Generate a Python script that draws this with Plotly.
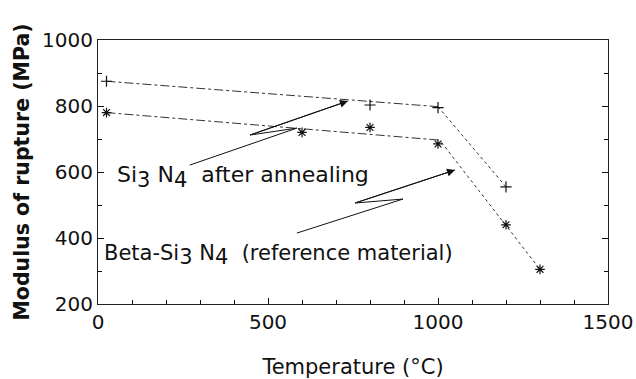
import plotly.graph_objects as go

# Measured points
annealed_T = [25, 800, 1000, 1200]
annealed_MOR = [875, 803, 795, 555]
beta_T = [25, 600, 800, 1000, 1200, 1300]
beta_MOR = [780, 720, 735, 685, 440, 305]

# Drawn trend lines
annealed_flat_T = [25, 1000]
annealed_flat_MOR = [875, 798]
annealed_drop_T = [1000, 1200]
annealed_drop_MOR = [798, 555]
beta_flat_T = [25, 1000]
beta_flat_MOR = [780, 697]
beta_drop_T = [1010, 1200, 1300]
beta_drop_MOR = [690, 440, 305]

# Label arrows with break (lightning) symbol
arrow1_T = [270, 585, 447, 735]
arrow1_MOR = [621, 733, 712, 815]
arrow2_T = [585, 897, 756, 1050]
arrow2_MOR = [415, 518, 506, 606]

x_ticks = [0, 500, 1000, 1500]
y_ticks = [200, 400, 600, 800, 1000]

FONT = "DejaVu Sans"
INK = "#111111"

fig = go.Figure()

for tx, ty, dash in [(annealed_flat_T, annealed_flat_MOR, "dashdot"),
                     (annealed_drop_T, annealed_drop_MOR, "dot"),
                     (beta_flat_T, beta_flat_MOR, "dashdot"),
                     (beta_drop_T, beta_drop_MOR, "dot")]:
    fig.add_trace(go.Scatter(x=tx, y=ty, mode="lines",
                             line=dict(color="#333333", width=1, dash=dash),
                             hoverinfo="skip", showlegend=False))

for ax_, ay_ in [(arrow1_T, arrow1_MOR), (arrow2_T, arrow2_MOR)]:
    fig.add_trace(go.Scatter(x=ax_, y=ay_, mode="lines",
                             line=dict(color=INK, width=1),
                             hoverinfo="skip", showlegend=False))
    fig.add_annotation(x=ax_[-1], y=ay_[-1], ax=ax_[-2], ay=ay_[-2],
                       xref="x", yref="y", axref="x", ayref="y",
                       showarrow=True, arrowhead=2, arrowsize=1.6,
                       arrowwidth=1, arrowcolor=INK, text="")

fig.add_trace(go.Scatter(x=annealed_T, y=annealed_MOR, mode="markers",
                         marker=dict(symbol="cross-thin", size=8, color=INK,
                                     line=dict(color=INK, width=1.2)),
                         name="Si3N4 after annealing", showlegend=False))
fig.add_trace(go.Scatter(x=beta_T, y=beta_MOR, mode="markers",
                         marker=dict(symbol="asterisk-open", size=8, color=INK,
                                     line=dict(color=INK, width=1.2)),
                         name="Beta-Si3N4", showlegend=False))

sub = "<sub><span style='font-size:21px'>{}</span></sub>"
fig.add_annotation(x=50, y=585, xref="x", yref="y", xanchor="left",
                   yanchor="middle", showarrow=False,
                   text="Si" + sub.format("3") + " N" + sub.format("4")
                   + "&nbsp;&nbsp;after annealing",
                   font=dict(family=FONT, size=22, color=INK))
fig.add_annotation(x=12, y=348, xref="x", yref="y", xanchor="left",
                   yanchor="middle", showarrow=False,
                   text="Beta-Si" + sub.format("3") + " N" + sub.format("4")
                   + "&nbsp;&nbsp;(reference material)",
                   font=dict(family=FONT, size=21, color=INK))

fig.update_layout(
    width=636, height=379,
    margin=dict(l=98, r=28, t=40, b=75),
    paper_bgcolor="white", plot_bgcolor="white",
    font=dict(family=FONT, size=20, color=INK),
    showlegend=False,
)
fig.update_xaxes(range=[0, 1500], tickvals=x_ticks, automargin=False,
                 ticks="inside", ticklen=6, tickcolor=INK,
                 minor=dict(dtick=100, ticks="inside", ticklen=4, tickcolor=INK),
                 showline=True, linecolor="#222222", linewidth=1, mirror=True,
                 showgrid=False, zeroline=False,
                 tickfont=dict(family=FONT, size=20, color=INK),
                 title=dict(text="Temperature (°C)", standoff=26,
                            font=dict(family=FONT, size=21, color=INK)))
fig.update_yaxes(range=[200, 1000], tickvals=y_ticks, automargin=False,
                 ticks="inside", ticklen=6, tickcolor=INK,
                 minor=dict(dtick=100, ticks="inside", ticklen=4, tickcolor=INK),
                 showline=True, linecolor="#222222", linewidth=1, mirror="ticks",
                 showgrid=False, zeroline=False,
                 tickfont=dict(family=FONT, size=20, color=INK),
                 title=dict(text="<b>Modulus of rupture (MPa)</b>", standoff=6,
                            font=dict(family=FONT, size=20.5, color=INK)))

fig.write_html("out.html",
               config={"displayModeBar": False},
               post_script="document.body.style.margin='0';"
                           "document.body.style.overflow='hidden';")
